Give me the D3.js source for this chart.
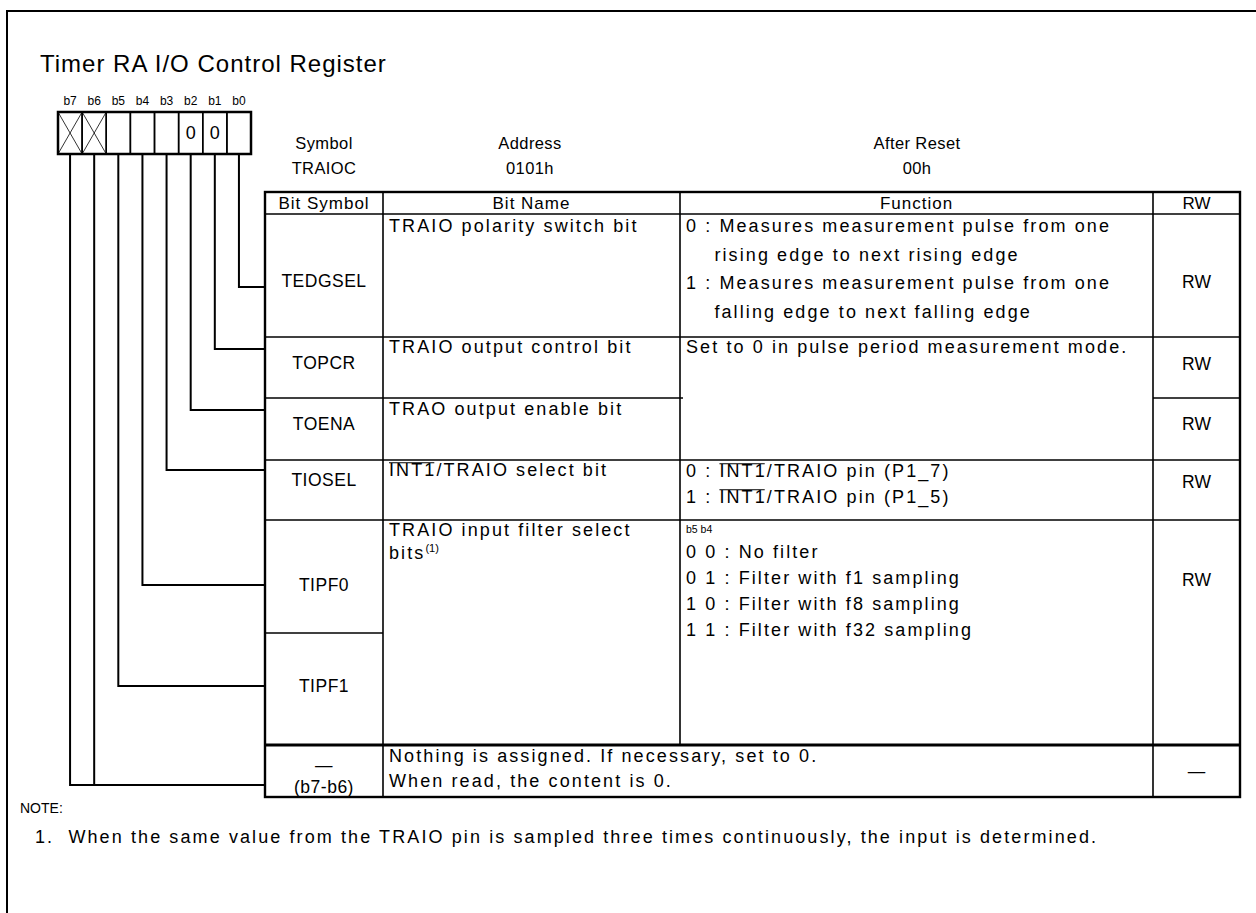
<!DOCTYPE html>
<html><head><meta charset="utf-8">
<script src="https://cdn.jsdelivr.net/npm/d3@7"></script>
<style>
html,body{margin:0;padding:0;background:#fff;}
svg text{font-family:"Liberation Sans",Arial,sans-serif;fill:#000;}
</style></head>
<body><svg id="c" width="1256" height="913"></svg>
<script>
// ---------- DATA ----------
const title = "Timer RA I/O Control Register";
const bitLabels = ["b7","b6","b5","b4","b3","b2","b1","b0"];
const bitValues = ["X","X","","","","0","0",""];   // X = reserved (crossed)
const regHeaders = ["Symbol","Address","After Reset"];
const regValues = ["TRAIOC","0101h","00h"];
const colHeaders = ["Bit Symbol","Bit Name","Function","RW"];
const bitSymbols = ["TEDGSEL","TOPCR","TOENA","TIOSEL","TIPF0","TIPF1","—|(b7-b6)"];
const bitOfRow = [["b0"],["b1"],["b2"],["b3"],["b4"],["b5"],["b6","b7"]];
const bitNames = ["TRAIO polarity switch bit","TRAIO output control bit","TRAO output enable bit",
                  "~INT1~/TRAIO select bit","TRAIO input filter select|bits^(1)^","",
                  "Nothing is assigned. If necessary, set to 0.|When read, the content is 0."];
const functions = [
  "0 : Measures measurement pulse from one|    rising edge to next rising edge|1 : Measures measurement pulse from one|    falling edge to next falling edge",
  "Set to 0 in pulse period measurement mode.",
  "",
  "0 : ~INT1~/TRAIO pin (P1_7)|1 : ~INT1~/TRAIO pin (P1_5)",
  "0 0 : No filter|0 1 : Filter with f1 sampling|1 0 : Filter with f8 sampling|1 1 : Filter with f32 sampling",
  "", ""];
const functionBitsHead = "b5 b4";
const rwValues = ["RW","RW","RW","RW","RW","","—"];
const noteHead = "NOTE:";
const notes = ["1.  When the same value from the TRAIO pin is sampled three times continuously, the input is determined."];

// ---------- LAYOUT ----------
const svg = d3.select("#c");
const FS = 18, LS = 2.1;
svg.append("path").attr("d","M7,913V11H1256").attr("fill","none").attr("stroke","#000").attr("stroke-width",2);
svg.append("text").attr("x",40).attr("y",72).attr("font-size",24).attr("letter-spacing",1.0).text(title);

// bit cells
const bx = d3.scaleBand().domain(bitLabels).range([58,251]);
const bitTop = 112, bitBot = 154;
const g = svg.append("g");
g.selectAll(".bl").data(bitLabels).join("text")
  .attr("x",d=>bx(d)+bx.bandwidth()/2).attr("y",105).attr("text-anchor","middle")
  .attr("font-size",12).text(d=>d);
g.selectAll(".bc").data(bitLabels).join("rect")
  .attr("x",d=>bx(d)).attr("y",bitTop).attr("width",bx.bandwidth()).attr("height",bitBot-bitTop)
  .attr("fill","none").attr("stroke","#000").attr("stroke-width",1.5);
g.append("rect").attr("x",bx.range()[0]).attr("y",bitTop).attr("width",bx.range()[1]-bx.range()[0])
  .attr("height",bitBot-bitTop).attr("fill","none").attr("stroke","#000").attr("stroke-width",2.5);
bitLabels.forEach((b,i)=>{
  const v = bitValues[i], x=bx(b), w=bx.bandwidth();
  if(v==="X"){
    g.append("path").attr("d",`M${x},${bitTop}L${x+w},${bitBot}M${x+w},${bitTop}L${x},${bitBot}`)
      .attr("stroke","#000").attr("stroke-width",0.8);
  } else if(v){
    g.append("text").attr("x",x+w/2).attr("y",139).attr("text-anchor","middle").attr("font-size",18).text(v);
  }
});

// register header
const regX = [324,530,917];
regHeaders.forEach((h,i)=>{
  svg.append("text").attr("x",regX[i]).attr("y",149).attr("text-anchor","middle").attr("font-size",16.5).attr("letter-spacing",0.4).text(h);
  svg.append("text").attr("x",regX[i]).attr("y",174).attr("text-anchor","middle").attr("font-size",16.5).attr("letter-spacing",0.4).text(regValues[i]);
});

// table geometry
const colX = [265,383,680,1153,1240];
const rowY = [192,214,337,398,460,520,633,745,797];
const T = svg.append("g");
const line=(x1,y1,x2,y2,w)=>T.append("line").attr("x1",x1).attr("y1",y1).attr("x2",x2).attr("y2",y2)
  .attr("stroke","#000").attr("stroke-width",w||1.6);
line(colX[1],rowY[0],colX[1],rowY[8]);
line(colX[2],rowY[0],colX[2],rowY[7]);
line(colX[3],rowY[0],colX[3],rowY[8]);
line(colX[0],rowY[1],colX[4],rowY[1]);
line(colX[0],rowY[2],colX[4],rowY[2]);
line(colX[0],rowY[3],colX[2]+3,rowY[3]); line(colX[3],rowY[3],colX[4],rowY[3]);
line(colX[0],rowY[4],colX[4],rowY[4]);
line(colX[0],rowY[5],colX[4],rowY[5]);
line(colX[0],rowY[6],colX[1],rowY[6]);
line(colX[0],rowY[7],colX[4],rowY[7],3);
T.append("rect").attr("x",colX[0]).attr("y",rowY[0]).attr("width",colX[4]-colX[0]).attr("height",rowY[8]-rowY[0])
  .attr("fill","none").attr("stroke","#000").attr("stroke-width",2.4);

colHeaders.forEach((h,i)=>{
  T.append("text").attr("x",(colX[i]+colX[i+1])/2).attr("y",209).attr("text-anchor","middle")
    .attr("font-size",17).attr("letter-spacing",h==="RW"?0:1).text(h);
});

const overlined = [];
function rich(sel, str, fs){
  const parts = str.split(/(~[^~]*~|\^[^\^]*\^)/).filter(s=>s.length);
  parts.forEach(p=>{
    if(p[0]==="~"){ const ts = sel.append("tspan").text(p.slice(1,-1)); overlined.push([ts, sel, fs]); }
    else if(p[0]==="^"){ sel.append("tspan").attr("font-size",11).attr("letter-spacing",0).attr("dy",-7).text(p.slice(1,-1)); }
    else sel.append("tspan").text(p);
  });
}
function multi(x,y0,lh,str,anchor,fs,ls){
  str.split("|").forEach((s,k)=>{
    const t=T.append("text").attr("x",x).attr("y",y0+k*lh).attr("font-size",fs||FS)
      .attr("letter-spacing",ls===undefined?LS:ls)
      .attr("text-anchor",anchor||"start").attr("xml:space","preserve").style("white-space","pre");
    rich(t,s,fs||FS);
  });
}
const symY = [287,369,430,486,591,692,771];
bitSymbols.forEach((s,i)=> multi((colX[0]+colX[1])/2, symY[i], 22, s, "middle", 17.5, 0.5));
const nameY = [232,353,415,476,536,0,762];
const nameLH = [0,0,0,0,23,0,25];
bitNames.forEach((s,i)=>{ if(s) multi(colX[1]+6, nameY[i], nameLH[i], s); });
const funcY = [232,353,0,477,558,0,0];
const funcLH = [28.5,0,0,26,26,0,0];
functions.forEach((s,i)=>{ if(s) multi(colX[2]+6, funcY[i], funcLH[i], s); });
T.append("text").attr("x",colX[2]+6).attr("y",533).attr("font-size",10.5).text(functionBitsHead);
const rwY = [288,370,430,488,586,0,777];
rwValues.forEach((s,i)=>{ if(s) T.append("text").attr("x",(colX[3]+colX[4])/2).attr("y",rwY[i])
  .attr("text-anchor","middle").attr("font-size",17.5).text(s); });

// manual overlines
overlined.forEach(([ts, txt, fs])=>{
  const bb = ts.node().getBBox();
  const y = +txt.attr("y") - 0.74*fs;
  T.append("line").attr("x1",bb.x).attr("x2",bb.x+bb.width-LS).attr("y1",y).attr("y2",y)
    .attr("stroke","#000").attr("stroke-width",1.1);
});

const connY = [287,349,410,470,585,686,785];
bitOfRow.forEach((bits,i)=>{
  bits.forEach(b=>{
    const x = bx(b)+bx.bandwidth()/2;
    svg.append("path").attr("d",`M${x},${bitBot}V${connY[i]}H${colX[0]}`)
      .attr("fill","none").attr("stroke","#000").attr("stroke-width",2);
  });
});

svg.append("text").attr("x",20).attr("y",813).attr("font-size",14).text(noteHead);
notes.forEach((n,i)=> svg.append("text").attr("x",35).attr("y",843+i*22).attr("font-size",FS)
  .attr("letter-spacing",LS).attr("xml:space","preserve").style("white-space","pre").text(n));
</script></body></html>
